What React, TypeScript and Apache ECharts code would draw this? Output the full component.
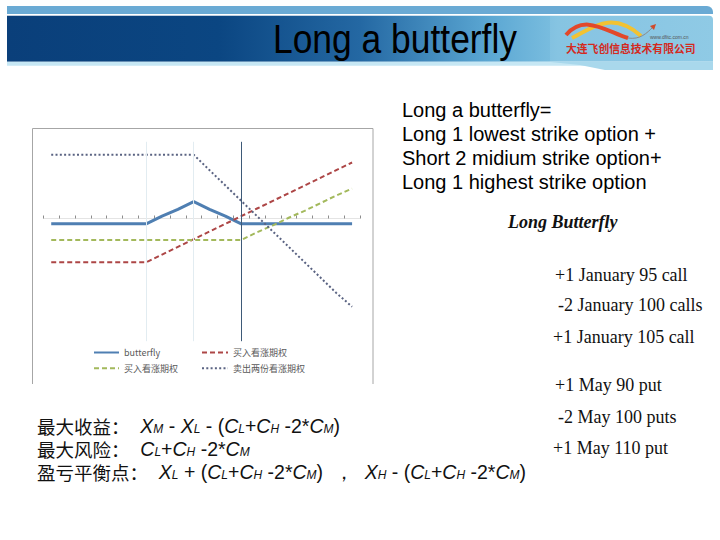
import React, { useEffect, useRef } from 'react';
import * as echarts from 'echarts';

const categories = ['1', '2', '3', '4', '5', '6', '7', '8', '9', '10', '11', '12', '13', '14', '15', '16', '17', '18', '19', '20'];
const butterflyValues = [-0.7, -0.7, -0.7, -0.7, -0.7, -0.7, -0.7, 0.3, 1.2, 2.2, 1.2, 0.3, -0.7, -0.7, -0.7, -0.7, -0.7, -0.7, -0.7, -0.7];
const longLowCall = [-5.7, -5.7, -5.7, -5.7, -5.7, -5.7, -5.7, -4.7, -3.7, -2.7, -1.7, -0.7, 0.3, 1.3, 2.3, 3.3, 4.3, 5.3, 6.3, 7.3];
const longHighCall = [-2.8, -2.8, -2.8, -2.8, -2.8, -2.8, -2.8, -2.8, -2.8, -2.8, -2.8, -2.8, -2.8, -1.8, -0.9, 0.1, 1.0, 2.0, 3.0, 3.9];
const shortMidCalls = [8.3, 8.3, 8.3, 8.3, 8.3, 8.3, 8.3, 8.3, 8.3, 8.3, 6.3, 4.3, 2.3, 0.3, -1.7, -3.7, -5.7, -7.7, -9.7, -11.5];
const strikeIndices = [6, 9, 12];

const seriesNames = ['butterfly', '买入看涨期权', '买入看涨期权\u200b', '卖出两份看涨期权'];

const titleText = 'Long a butterfly';
const defLines = ['Long a butterfly=', 'Long 1 lowest strike option +', 'Short 2 midium strike option+', 'Long 1 highest strike option'];
const listTitle = 'Long Butterfly';
const listLines = ['+1 January 95 call', '-2 January 100 calls', '+1 January 105 call', '+1 May 90 put', '-2 May 100 puts', '+1 May 110 put'];

const SANS = '"Liberation Sans", Arial, sans-serif';
const SERIF = '"Liberation Serif", "Times New Roman", serif';
const CJK = '"Noto Sans CJK SC", sans-serif';

const richStyles = {
  cn: { fontFamily: CJK, fontSize: 18.5, fill: '#111', lineHeight: 19 },
  n: { fontFamily: SANS, fontSize: 19.5, fill: '#111', lineHeight: 19 },
  v: { fontFamily: SANS, fontSize: 19.5, fontStyle: 'italic', fill: '#111', lineHeight: 19 },
  s: { fontFamily: SANS, fontSize: 12, fontStyle: 'italic', fill: '#111', lineHeight: 19, verticalAlign: 'bottom', padding: [0, 0, 1, 0] },
};

const cost = '{n|(}{v|C}{s|L}{n|+}{v|C}{s|H}{n| -2*}{v|C}{s|M}{n|)}';
const formulaLines = [
  '{cn|最大收益：}{n|  }{v|X}{s|M}{n| - }{v|X}{s|L}{n| - }' + cost,
  '{cn|最大风险：}{n|  }{v|C}{s|L}{n|+}{v|C}{s|H}{n| -2*}{v|C}{s|M}',
  '{cn|盈亏平衡点：}{n|  }{v|X}{s|L}{n| + }' + cost + '{n|  ，  }{v|X}{s|H}{n| - }' + cost,
];

function txt(text: string, x: number, y: number, extra: any) {
  return {
    type: 'text',
    x,
    y,
    silent: true,
    style: Object.assign({ text, align: 'left', textAlign: 'left', verticalAlign: 'middle', textVerticalAlign: 'middle', fill: '#000' }, extra),
  };
}

export default function App() {
  const ref = useRef<HTMLDivElement>(null);
  useEffect(() => {
    const chart = echarts.init(ref.current!, null, { renderer: 'svg' });

    const graphics: any[] = [
      // header
      { type: 'rect', shape: { x: 7, y: 6, width: 706, height: 8, r: [0, 6, 0, 0] }, style: { fill: '#6aaad4' }, silent: true },
      {
        type: 'rect', shape: { x: 7, y: 15.7, width: 706, height: 46, r: [0, 4, 0, 0] }, silent: true,
        style: {
          fill: new echarts.graphic.LinearGradient(0, 0, 1, 0, [
            { offset: 0, color: '#0a3f7a' },
            { offset: 0.3, color: '#0b4682' },
            { offset: 0.5, color: '#2468a3' },
            { offset: 0.68, color: '#5aa6d2' },
            { offset: 0.78, color: '#7cbfe0' },
            { offset: 1, color: '#86c6e3' },
          ]),
        },
      },
      { type: 'rect', shape: { x: 7, y: 61.7, width: 706, height: 4 }, style: { fill: '#c6e7f4' }, silent: true },
      { type: 'polygon', shape: { points: [[548, 61.7], [713, 61.7], [713, 70], [605, 70], [580, 65]] }, style: { fill: '#a9d8ec' }, silent: true },
      { type: 'rect', shape: { x: 550, y: 15.7, width: 163, height: 46 }, style: { fill: 'rgba(255,255,255,0.08)' }, silent: true },
      {
        type: 'text', x: 273, y: 39, scaleX: 0.885, silent: true,
        style: { text: titleText, x: 0, y: 0, fontFamily: SANS, fontSize: 40, fill: '#000', align: 'left', textAlign: 'left', verticalAlign: 'middle', textVerticalAlign: 'middle' },
      },
      // logo
      { type: 'bezierCurve', shape: { x1: 572, y1: 38, cpx1: 592, cpy1: 28, cpx2: 612, cpy2: 10, x2: 641, y2: 36 }, style: { stroke: '#f2c232', lineWidth: 4, fill: 'none' }, silent: true },
      { type: 'bezierCurve', shape: { x1: 566, y1: 35, cpx1: 584, cpy1: 14, cpx2: 604, cpy2: 30, x2: 628, y2: 38 }, style: { stroke: '#e2482a', lineWidth: 4, fill: 'none' }, silent: true },
      { type: 'bezierCurve', shape: { x1: 628, y1: 38, cpx1: 640, cpy1: 40, cpx2: 647, cpy2: 33, x2: 653, y2: 27 }, style: { stroke: '#8a8a8a', lineWidth: 1, fill: 'none' }, silent: true },
      { type: 'polygon', shape: { points: [[656, 24], [650, 26], [654, 30]] }, style: { fill: '#d04a2a' }, silent: true },
      txt('www.dfitc.com.cn', 650, 36.5, { fontFamily: SANS, fontSize: 5, fill: '#555' }),
      txt('大连飞创信息技术有限公司', 566, 48, { fontFamily: CJK, fontSize: 10.8, fontWeight: 'bold', fill: '#d42a1e' }),
      // chart frame
      { type: 'polyline', shape: { points: [[32.5, 384], [32.5, 128.5], [373, 128.5], [373, 384]] }, style: { stroke: '#a6a6a6', lineWidth: 1, fill: 'none' }, silent: true },
    ];

    const defY = [110, 134, 158.3, 182];
    defLines.forEach((t, i) => graphics.push(txt(t, 402, defY[i], { fontFamily: SANS, fontSize: 20, fill: '#000' })));
    graphics.push(txt(listTitle, 508, 221.7, { fontFamily: SERIF, fontSize: 18, fontWeight: 'bold', fontStyle: 'italic', fill: '#111' }));
    const listX = [555, 558, 553, 555, 558, 553];
    const listY = [275, 305, 337, 385, 416.7, 448];
    listLines.forEach((t, i) => graphics.push(txt(t, listX[i], listY[i], { fontFamily: SERIF, fontSize: 18, fill: '#111' })));
    const fY = [426.2, 449.2, 472.2];
    formulaLines.forEach((t, i) => graphics.push(txt(t, 37, fY[i], { rich: richStyles, fontFamily: SANS, fontSize: 19.5, fill: '#111' })));

    const option: any = {
      animation: false,
      backgroundColor: '#fff',
      grid: { left: 43.3, top: 141.8, width: 316.7, height: 199.4, containLabel: false },
      xAxis: {
        type: 'category',
        data: categories,
        boundaryGap: true,
        axisLine: { onZero: true, lineStyle: { color: '#e4e4e4', width: 1 } },
        axisTick: { show: true, interval: 0, length: 3, inside: true, lineStyle: { color: '#8c8c8c' } },
        axisLabel: { show: false },
        splitLine: { show: false },
      },
      yAxis: {
        type: 'value', min: -16, max: 10,
        axisLine: { show: false }, axisTick: { show: false }, axisLabel: { show: false }, splitLine: { show: false },
      },
      legend: [
        {
          data: [seriesNames[0], seriesNames[2]], orient: 'vertical', left: 93, top: 348, padding: 0,
          itemWidth: 25, itemHeight: 10, itemGap: 6.7,
          itemStyle: { opacity: 0 },
          textStyle: { fontSize: 9, color: '#595959', fontFamily: CJK },
        },
        {
          data: [seriesNames[1], seriesNames[3]], orient: 'vertical', left: 201, top: 348, padding: 0,
          itemWidth: 26, itemHeight: 10, itemGap: 6.7,
          itemStyle: { opacity: 0 },
          textStyle: { fontSize: 9, color: '#595959', fontFamily: CJK },
        },
      ],
      series: [
        {
          name: seriesNames[0], type: 'line', data: butterflyValues, symbol: 'none', z: 3,
          lineStyle: { color: '#4f7fb2', width: 3 }, itemStyle: { color: '#4f7fb2' },
          markLine: {
            silent: true, symbol: 'none', label: { show: false },
            data: strikeIndices.map((idx, i) => ({
              xAxis: idx,
              lineStyle: i === 2 ? { color: '#3e5a78', width: 1, type: 'solid' } : { color: '#e2ecf1', width: 1, type: 'solid' },
            })),
          },
        },
        {
          name: seriesNames[1], type: 'line', data: longLowCall, symbol: 'none', z: 4,
          lineStyle: { color: '#ad4646', width: 2, type: [5, 3] }, itemStyle: { color: '#ad4646' },
        },
        {
          name: seriesNames[2], type: 'line', data: longHighCall, symbol: 'none', z: 4,
          lineStyle: { color: '#a3b95c', width: 2, type: [5, 3] }, itemStyle: { color: '#a3b95c' },
        },
        {
          name: seriesNames[3], type: 'line', data: shortMidCalls, symbol: 'none', z: 4,
          lineStyle: { color: '#5a6382', width: 2, type: [2, 2.3] }, itemStyle: { color: '#5a6382' },
        },
      ],
      graphic: graphics,
    };

    chart.setOption(option);
    return () => chart.dispose();
  }, []);
  return <div ref={ref} style={{ position: 'absolute', left: 0, top: 0, width: 720, height: 540, background: '#fff' }} />;
}
